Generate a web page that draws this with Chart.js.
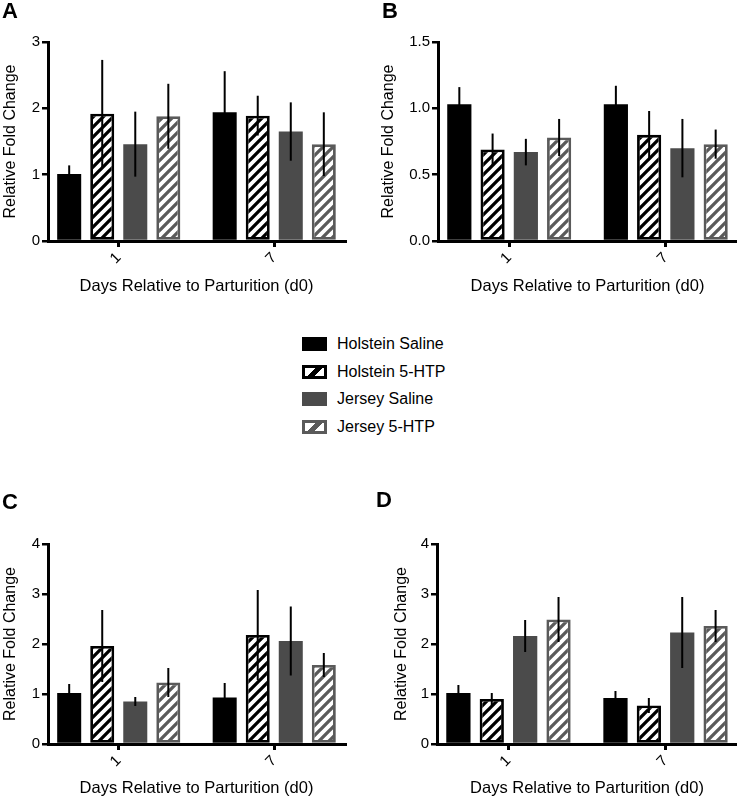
<!DOCTYPE html>
<html>
<head>
<meta charset="utf-8">
<title>Relative Fold Change</title>
<script src="https://cdn.jsdelivr.net/npm/chart.js"></script>
<style>
  body { margin: 0; background: #fff; font-family: Helvetica, Arial, "Liberation Sans", sans-serif; }
  #page { position: relative; width: 737px; height: 797px; overflow: hidden; }
  canvas { position: absolute; }
  .panel { position: absolute; font-weight: bold; font-size: 22px; line-height: 22px; }
  .leg { position: absolute; left: 302px; font-size: 16px; }
  .leg span.box { position: absolute; left: 0; width: 25px; height: 14px; box-sizing: border-box; }
  .leg span.txt { position: absolute; left: 35px; top: -10px; white-space: nowrap; line-height: 20px; }
</style>
</head>
<body>
<div id="page">
  <canvas id="chartA" width="368" height="300" style="left:0;top:0"></canvas>
  <canvas id="chartB" width="369" height="300" style="left:368px;top:0"></canvas>
  <canvas id="chartC" width="368" height="300" style="left:0;top:500px"></canvas>
  <canvas id="chartD" width="369" height="300" style="left:368px;top:500px"></canvas>

  <div class="panel" style="left:2px;top:0">A</div>
  <div class="panel" style="left:382px;top:0">B</div>
  <div class="panel" style="left:2px;top:491px">C</div>
  <div class="panel" style="left:376px;top:489px">D</div>

  <div class="leg" style="top:344px"><span class="box" style="top:-7px;background:#000"></span><span class="txt">Holstein Saline</span></div>
  <div class="leg" style="top:372px"><span class="box" style="top:-7px;border:3px solid #000;background:linear-gradient(-45deg,#fff 36%,#000 36% 62%,#fff 62%)"></span><span class="txt">Holstein 5-HTP</span></div>
  <div class="leg" style="top:399px"><span class="box" style="top:-7px;background:#4b4b4b"></span><span class="txt">Jersey Saline</span></div>
  <div class="leg" style="top:427px"><span class="box" style="top:-7px;border:3px solid #5a5a5a;background:linear-gradient(-45deg,#fff 36%,#5a5a5a 36% 62%,#fff 62%)"></span><span class="txt">Jersey 5-HTP</span></div>
</div>

<script>
// days on the x axis
var days = ['1', '7'];
var groups = ['Holstein Saline', 'Holstein 5-HTP', 'Jersey Saline', 'Jersey 5-HTP'];

// panel A  (mean, error)
var aHolSal = [1.01, 1.94];   var aHolSalErr = [0.13, 0.62];
var aHolHtp = [1.92, 1.89];   var aHolHtpErr = [0.81, 0.30];
var aJerSal = [1.46, 1.65];   var aJerSalErr = [0.49, 0.44];
var aJerHtp = [1.88, 1.46];   var aJerHtpErr = [0.49, 0.48];

// panel B
var bHolSal = [1.03, 1.03];   var bHolSalErr = [0.13, 0.14];
var bHolHtp = [0.69, 0.80];   var bHolHtpErr = [0.12, 0.18];
var bJerSal = [0.67, 0.70];   var bJerSalErr = [0.10, 0.22];
var bJerHtp = [0.78, 0.73];   var bJerHtpErr = [0.14, 0.11];

// panel C
var cHolSal = [1.02, 0.93];   var cHolSalErr = [0.18, 0.29];
var cHolHtp = [1.96, 2.18];   var cHolHtpErr = [0.72, 0.90];
var cJerSal = [0.85, 2.06];   var cJerSalErr = [0.09, 0.69];
var cJerHtp = [1.23, 1.58];   var cJerHtpErr = [0.29, 0.24];

// panel D
var dHolSal = [1.02, 0.92];   var dHolSalErr = [0.16, 0.14];
var dHolHtp = [0.90, 0.77];   var dHolHtpErr = [0.12, 0.15];
var dJerSal = [2.16, 2.23];   var dJerSalErr = [0.32, 0.71];
var dJerHtp = [2.49, 2.36];   var dJerHtpErr = [0.45, 0.32];

var FONT = 'Helvetica, Arial, "Liberation Sans", sans-serif';

// diagonal hatch fill
function hatch(color) {
  var c = document.createElement('canvas');
  c.width = 10; c.height = 10;
  var g = c.getContext('2d');
  g.fillStyle = '#fff';
  g.fillRect(0, 0, 10, 10);
  g.strokeStyle = color;
  g.lineWidth = 3.3;
  g.beginPath();
  g.moveTo(-5, 5); g.lineTo(5, -5);
  g.moveTo(0, 10); g.lineTo(10, 0);
  g.moveTo(5, 15); g.lineTo(15, 5);
  g.stroke();
  return g.createPattern(c, 'repeat');
}

// vertical error bars, drawn with the y scale
var errorBars = {
  id: 'errorBars',
  afterDatasetsDraw: function(chart) {
    var ctx = chart.ctx, y = chart.scales.y;
    chart.data.datasets.forEach(function(ds, i) {
      chart.getDatasetMeta(i).data.forEach(function(bar, j) {
        var v = ds.data[j].y, e = ds.errors[j];
        ctx.save();
        ctx.strokeStyle = '#000';
        ctx.lineWidth = 2;
        ctx.beginPath();
        ctx.moveTo(bar.x, y.getPixelForValue(v - e));
        ctx.lineTo(bar.x, y.getPixelForValue(v + e));
        ctx.stroke();
        ctx.restore();
      });
    });
  }
};

function pts(vals) {
  return vals.map(function(v, i) { return { x: i, y: v }; });
}

function makeChart(id, series, errs, o) {
  var ctx = document.getElementById(id).getContext('2d');
  var styles = [
    { backgroundColor: '#000', borderWidth: 0 },
    { backgroundColor: hatch('#000'), borderColor: '#000', borderWidth: 2.8 },
    { backgroundColor: '#4b4b4b', borderWidth: 0 },
    { backgroundColor: hatch('#5a5a5a'), borderColor: '#5a5a5a', borderWidth: 2.8 }
  ];
  var datasets = series.map(function(s, i) {
    return Object.assign({
      label: groups[i],
      data: pts(s),
      errors: errs[i],
      borderSkipped: false,
      categoryPercentage: 0.85,
      barPercentage: 0.727
    }, styles[i]);
  });

  return new Chart(ctx, {
    type: 'bar',
    data: { datasets: datasets },
    plugins: [errorBars],
    options: {
      responsive: false,
      animation: false,
      layout: { padding: { top: o.top, right: o.right, left: 0, bottom: 0 } },
      plugins: { legend: { display: false }, tooltip: { enabled: false } },
      scales: {
        x: {
          type: 'linear',
          min: -0.455,
          max: 1.455,
          offset: false,
          afterBuildTicks: function(s) { s.ticks = [{ value: 0 }, { value: 1 }]; },
          afterFit: function(s) { s.height = o.xh; },
          ticks: {
            color: '#000',
            font: { family: FONT, size: 15 },
            minRotation: 45, maxRotation: 45,
            padding: 2,
            callback: function(v, idx) { return days[idx]; }
          },
          grid: { drawOnChartArea: false, color: '#000', lineWidth: 3, tickLength: 6, offset: false },
          border: { color: '#000', width: 3 },
          title: { display: true, text: 'Days Relative to Parturition (d0)', color: '#000',
                   font: { family: FONT, size: 16.5 }, padding: { top: 0, bottom: o.xpad } }
        },
        y: {
          min: 0,
          max: o.max,
          afterFit: function(s) { s.width = o.yw; },
          ticks: {
            stepSize: o.step,
            color: '#000',
            font: { family: FONT, size: 15 },
            padding: 2,
            callback: function(v) { return o.dec ? v.toFixed(1) : v; }
          },
          grid: { drawOnChartArea: false, color: '#000', lineWidth: 2.5, tickLength: 6 },
          border: { color: '#000', width: 3 },
          title: { display: true, text: 'Relative Fold Change', color: '#000',
                   font: { family: FONT, size: 16 }, padding: { top: o.ypad, bottom: 0 } }
        }
      }
    }
  });
}

makeChart('chartA',
  [aHolSal, aHolHtp, aJerSal, aJerHtp],
  [aHolSalErr, aHolHtpErr, aJerSalErr, aJerHtpErr],
  { top: 42, right: 23, yw: 48, xh: 59, xpad: 4, ypad: 1, max: 3, step: 1, dec: false });

makeChart('chartB',
  [bHolSal, bHolHtp, bJerSal, bJerHtp],
  [bHolSalErr, bHolHtpErr, bJerSalErr, bJerHtpErr],
  { top: 42, right: 0, yw: 70, xh: 59, xpad: 4, ypad: 11, max: 1.5, step: 0.5, dec: true });

makeChart('chartC',
  [cHolSal, cHolHtp, cJerSal, cJerHtp],
  [cHolSalErr, cHolHtpErr, cJerSalErr, cJerHtpErr],
  { top: 44, right: 23, yw: 48, xh: 56, xpad: 2, ypad: 1, max: 4, step: 1, dec: false });

makeChart('chartD',
  [dHolSal, dHolHtp, dJerSal, dJerHtp],
  [dHolSalErr, dHolHtpErr, dJerSalErr, dJerHtpErr],
  { top: 44, right: 0, yw: 69, xh: 56, xpad: 2, ypad: 24, max: 4, step: 1, dec: false });
</script>
</body>
</html>
